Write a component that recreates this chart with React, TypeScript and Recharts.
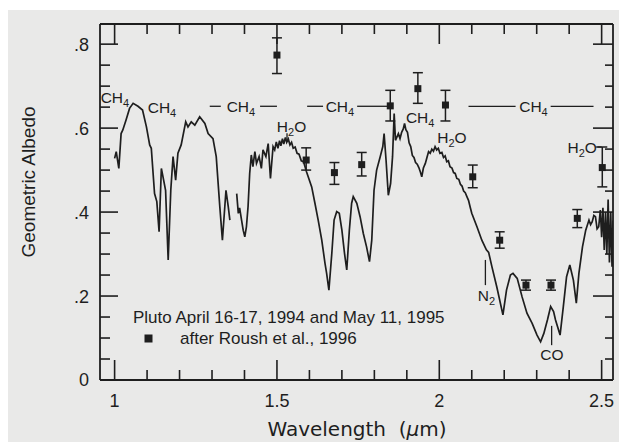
import React from "react";
import {
  ComposedChart,
  Line,
  Scatter,
  ErrorBar,
  XAxis,
  YAxis,
  ReferenceLine,
  ReferenceDot,
  Customized,
} from "recharts";

// ---------- spectrum (wavelength in µm, geometric albedo) ----------
const specWl = [
  1.0, 1.005, 1.013, 1.02, 1.025, 1.035, 1.046, 1.057, 1.072, 1.086, 1.098, 1.108, 1.113, 1.123, 1.13,
  1.137, 1.144, 1.151, 1.157, 1.165, 1.173, 1.18, 1.188, 1.195, 1.205, 1.219, 1.226, 1.236, 1.247, 1.262,
  1.278, 1.288, 1.303, 1.313, 1.324, 1.332, 1.343, 1.35, 1.355, 1.363, 1.376, 1.381, 1.385, 1.391, 1.396,
  1.401, 1.406, 1.411, 1.416, 1.421, 1.426, 1.432, 1.437, 1.445, 1.452, 1.457, 1.466, 1.473, 1.48, 1.488,
  1.493, 1.498, 1.503, 1.508, 1.512, 1.517, 1.521, 1.526, 1.53, 1.535, 1.54, 1.545, 1.55, 1.556, 1.562,
  1.568, 1.575, 1.582, 1.591, 1.607, 1.617, 1.627, 1.638, 1.648, 1.653, 1.66, 1.669, 1.676, 1.684, 1.692,
  1.7, 1.708, 1.715, 1.723, 1.73, 1.735, 1.746, 1.756, 1.766, 1.776, 1.785, 1.792, 1.799, 1.807, 1.818,
  1.826, 1.83, 1.836, 1.843, 1.85, 1.856, 1.861, 1.865, 1.874, 1.879, 1.884, 1.889, 1.893, 1.897, 1.902,
  1.907, 1.912, 1.917, 1.922, 1.927, 1.932, 1.937, 1.942, 1.946, 1.951, 1.957, 1.962, 1.967, 1.972, 1.977,
  1.982, 1.987, 1.992, 1.997, 2.002, 2.008, 2.013, 2.018, 2.023, 2.028, 2.033, 2.039, 2.044, 2.049, 2.054,
  2.06, 2.065, 2.07, 2.075, 2.08, 2.085, 2.09, 2.095, 2.1, 2.116, 2.131, 2.145, 2.152, 2.162, 2.177,
  2.196, 2.207, 2.219, 2.227, 2.24, 2.255, 2.27, 2.286, 2.301, 2.312, 2.322, 2.333, 2.343, 2.352, 2.358,
  2.372, 2.382, 2.392, 2.402, 2.413, 2.422, 2.43, 2.441, 2.451, 2.461, 2.466, 2.471, 2.476, 2.481, 2.486,
  2.491, 2.496, 2.5, 2.504, 2.508, 2.512, 2.516, 2.52, 2.524, 2.528, 2.532, 2.535,
];
const specAlb: (number | null)[] = [
  0.528, 0.544, 0.504, 0.587, 0.595, 0.619, 0.647, 0.659, 0.652, 0.643, 0.603, 0.56, 0.552, 0.444, 0.425,
  0.353, 0.504, 0.476, 0.452, 0.286, 0.452, 0.532, 0.476, 0.54, 0.56, 0.615, 0.603, 0.615, 0.607, 0.627,
  0.611, 0.587, 0.575, 0.532, 0.413, 0.333, 0.452, 0.413, 0.381, null, 0.444, 0.397, 0.41, 0.381, 0.357,
  0.341, 0.365, 0.413, 0.492, 0.536, 0.508, 0.544, 0.516, 0.532, 0.504, 0.548, 0.532, 0.563, 0.48, 0.556,
  0.548, 0.567, 0.552, 0.57, 0.558, 0.575, 0.562, 0.578, 0.566, 0.574, 0.56, 0.566, 0.552, 0.555, 0.54,
  0.538, 0.522, 0.52, 0.496, 0.46, 0.421, 0.381, 0.333, 0.278, 0.254, 0.214, 0.302, 0.381, 0.401, 0.397,
  0.357, 0.302, 0.262, 0.357, 0.421, 0.437, 0.421, 0.389, 0.349, 0.317, 0.282, 0.333, 0.452, 0.5, 0.532,
  0.556, 0.587, 0.524, 0.44, 0.468, 0.532, 0.635, 0.571, 0.587, 0.575, 0.59, 0.598, 0.611, 0.596, 0.59,
  0.565, 0.556, 0.535, 0.53, 0.518, 0.514, 0.506, 0.495, 0.484, 0.505, 0.516, 0.53, 0.544, 0.54, 0.55,
  0.545, 0.556, 0.548, 0.552, 0.54, 0.542, 0.53, 0.534, 0.52, 0.522, 0.508, 0.505, 0.494, 0.492, 0.48,
  0.478, 0.466, 0.462, 0.45, 0.446, 0.437, 0.428, 0.412, 0.397, 0.365, 0.333, 0.31, 0.304, 0.27, 0.222,
  0.155, 0.214, 0.25, 0.254, 0.242, 0.198, 0.159, 0.135, 0.107, 0.091, 0.111, 0.143, 0.175, 0.163, 0.143,
  0.107, 0.175, 0.246, 0.274, 0.238, 0.183, 0.254, 0.317, 0.357, 0.381, 0.37, 0.377, 0.392, 0.389, 0.36,
  0.365, 0.405, 0.34, 0.41, 0.31, 0.4, 0.3, 0.43, 0.28, 0.4, 0.27, 0.38,
];

// ---------- Roush et al. 1996 points ----------
const ptWl = [1.5, 1.59, 1.677, 1.761, 1.849, 1.934, 2.019, 2.103, 2.186, 2.267, 2.344, 2.425, 2.502];
const ptAlb = [0.774, 0.524, 0.494, 0.513, 0.653, 0.694, 0.655, 0.484, 0.333, 0.226, 0.226, 0.385, 0.506];
const ptLo = [0.73, 0.5, 0.466, 0.486, 0.617, 0.659, 0.617, 0.458, 0.314, 0.214, 0.214, 0.363, 0.46];
const ptHi = [0.815, 0.553, 0.518, 0.542, 0.69, 0.732, 0.69, 0.512, 0.353, 0.238, 0.238, 0.406, 0.555];

// ---------- ticks ----------
const X_TICKS = [1, 1.1, 1.2, 1.3, 1.4, 1.5, 1.6, 1.7, 1.8, 1.9, 2, 2.1, 2.2, 2.3, 2.4, 2.5];
const X_MAJOR = [1, 1.5, 2, 2.5];
const Y_TICKS = [
  0, 0.05, 0.1, 0.15, 0.2, 0.25, 0.3, 0.35, 0.4, 0.45, 0.5, 0.55, 0.6, 0.65, 0.7, 0.75, 0.8,
];
const Y_MAJOR = [0, 0.2, 0.4, 0.6, 0.8];

// ---------- annotations ----------
const annoY = 0.652;
const ch4Bars = [
  [1.293, 1.327],
  [1.448, 1.5],
  [1.593, 1.642],
  [1.747, 1.84],
  [2.09, 2.235],
  [2.343, 2.475],
];

const specData = specWl.map((w, i) => ({ w, a: specAlb[i] }));
const ptData = ptWl.map((w, i) => ({ w, a: ptAlb[i], err: [ptAlb[i] - ptLo[i], ptHi[i] - ptAlb[i]] }));

const INK = "#1e1e1e";
const SANS = "Liberation Sans, Arial, Helvetica, sans-serif";

const isIn = (arr: number[], v: number) => arr.some((m) => Math.abs(m - v) < 1e-6);

const BottomTick = (p: any) => {
  const v = p.payload.value;
  const maj = isIn(X_MAJOR, v);
  return (
    <g>
      <line x1={p.x} x2={p.x} y1={p.y} y2={p.y - (maj ? 20 : 10)} stroke={INK} strokeWidth={1.6} />
      {maj && (
        <text x={p.x} y={p.y + 27} textAnchor="middle" fontFamily={SANS} fontSize={18} fill={INK}>
          {String(v)}
        </text>
      )}
    </g>
  );
};
const TopTick = (p: any) => {
  const v = p.payload.value;
  const maj = isIn(X_MAJOR, v);
  return <line x1={p.x} x2={p.x} y1={p.y} y2={p.y + (maj ? 20 : 10)} stroke={INK} strokeWidth={1.6} />;
};
const LeftTick = (p: any) => {
  const v = p.payload.value;
  const maj = isIn(Y_MAJOR, v);
  const lbl = v === 0 ? "0" : "." + String(Math.round(v * 10));
  return (
    <g>
      <line x1={p.x} x2={p.x + (maj ? 18 : 10)} y1={p.y} y2={p.y} stroke={INK} strokeWidth={1.6} />
      {maj && (
        <text x={p.x - 11} y={p.y} dy="0.36em" textAnchor="end" fontFamily={SANS} fontSize={18} fill={INK}>
          {lbl}
        </text>
      )}
    </g>
  );
};
const RightTick = (p: any) => {
  const v = p.payload.value;
  const maj = isIn(Y_MAJOR, v);
  return <line x1={p.x} x2={p.x - (maj ? 20 : 8)} y1={p.y} y2={p.y} stroke={INK} strokeWidth={1.6} />;
};

const Square = (p: any) => <rect x={p.cx - 3.5} y={p.cy - 3.5} width={7} height={7} fill={INK} />;

type Sub = { main: string; sub: string; tail?: string };
const mkText = (t: Sub, anchor: "start" | "middle") => (p: any) => (
  <text x={p.cx} y={p.cy} dy="0.36em" textAnchor={anchor} fontFamily={SANS} fontSize={15.5} fill={INK}>
    {t.main}
    <tspan dy={4} fontSize={11}>
      {t.sub}
    </tspan>
    {t.tail ? <tspan dy={-4}>{t.tail}</tspan> : null}
  </text>
);

const CH4: Sub = { main: "CH", sub: "4" };
const H2O: Sub = { main: "H", sub: "2", tail: "O" };
const N2: Sub = { main: "N", sub: "2" };

const labels: { w: number; v: number; t: Sub; anchor: "start" | "middle" }[] = [
  { w: 0.957, v: 0.674, t: CH4, anchor: "start" },
  { w: 1.102, v: 0.65, t: CH4, anchor: "start" },
  { w: 1.389, v: annoY, t: CH4, anchor: "middle" },
  { w: 1.694, v: annoY, t: CH4, anchor: "middle" },
  { w: 1.941, v: 0.626, t: CH4, anchor: "middle" },
  { w: 2.29, v: annoY, t: CH4, anchor: "middle" },
  { w: 1.545, v: 0.605, t: H2O, anchor: "middle" },
  { w: 2.039, v: 0.579, t: H2O, anchor: "middle" },
  { w: 2.44, v: 0.555, t: H2O, anchor: "middle" },
  { w: 2.145, v: 0.202, t: N2, anchor: "middle" },
];

const LegendBox = () => (
  <g fontFamily={SANS} fontSize={17} fill={INK}>
    <text x={133} y={323}>Pluto April 16-17, 1994 and May 11, 1995</text>
    <rect x={144.5} y={334.5} width={8} height={8} fill={INK} />
    <text x={180} y={344}>after Roush et al., 1996</text>
    <text x={357} y={436} textAnchor="middle" fontFamily="DejaVu Sans, sans-serif" fontSize={20}>
      Wavelength{"\u00a0\u00a0"}(<tspan fontStyle="italic">µ</tspan>m)
    </text>
    <text
      x={0}
      y={0}
      transform="translate(28,182) rotate(-90)"
      textAnchor="middle"
      dy="0.36em"
      fontSize={19}
    >
      Geometric Albedo
    </text>
  </g>
);

const ax = { xAxisId: "b", yAxisId: "l" };

export default function App() {
  return (
    <div style={{ position: "absolute", left: 0, top: 0, width: 619, height: 442, background: "#ffffff" }}>
      <div style={{ position: "absolute", left: 8, top: 10, right: 0, bottom: 0, background: "#e9e9e8" }} />
      <div style={{ position: "absolute", left: 0, top: 0 }}>
        <ComposedChart width={619} height={442} margin={{ top: 0, right: 0, bottom: 0, left: 0 }}>
          <XAxis
            xAxisId="b"
            type="number"
            dataKey="w"
            orientation="bottom"
            domain={[0.955, 2.535]}
            allowDataOverflow
            ticks={X_TICKS}
            interval={0}
            height={62}
            tickSize={0}
            tickMargin={0}
            tickLine={false}
            axisLine={{ stroke: INK, strokeWidth: 1.8 }}
            tick={<BottomTick />}
          />
          <XAxis
            xAxisId="t"
            type="number"
            dataKey="w"
            orientation="top"
            domain={[0.955, 2.535]}
            allowDataOverflow
            ticks={X_TICKS}
            interval={0}
            height={24}
            tickSize={0}
            tickMargin={0}
            tickLine={false}
            axisLine={{ stroke: INK, strokeWidth: 1.8 }}
            tick={<TopTick />}
          />
          <YAxis
            yAxisId="l"
            type="number"
            orientation="left"
            domain={[0, 0.848]}
            allowDataOverflow
            ticks={Y_TICKS}
            interval={0}
            width={100}
            tickSize={0}
            tickMargin={0}
            tickLine={false}
            axisLine={{ stroke: INK, strokeWidth: 1.8 }}
            tick={<LeftTick />}
          />
          <YAxis
            yAxisId="r"
            type="number"
            orientation="right"
            domain={[0, 0.848]}
            allowDataOverflow
            ticks={Y_TICKS}
            interval={0}
            width={6}
            tickSize={0}
            tickMargin={0}
            tickLine={false}
            axisLine={{ stroke: INK, strokeWidth: 1.8 }}
            tick={<RightTick />}
          />

          <Line
            {...ax}
            data={specData}
            dataKey="a"
            type="linear"
            dot={false}
            stroke={INK}
            strokeWidth={1.7}
            isAnimationActive={false}
            connectNulls={false}
          />
          <Scatter {...ax} data={ptData} dataKey="a" shape={<Square />} isAnimationActive={false}>
            <ErrorBar dataKey="err" direction="y" width={5} stroke={INK} strokeWidth={1.5} isAnimationActive={false} />
          </Scatter>

          {ch4Bars.map(([a, b], i) => (
            <ReferenceLine
              key={"c" + i}
              {...ax}
              segment={[
                { x: a, y: annoY },
                { x: b, y: annoY },
              ]}
              stroke={INK}
              strokeWidth={1.3}
            />
          ))}
          <ReferenceLine {...ax} segment={[{ x: 2.481, y: 0.555 }, { x: 2.5, y: 0.555 }]} stroke={INK} strokeWidth={1.3} />
          <ReferenceLine {...ax} segment={[{ x: 1.531, y: 0.588 }, { x: 1.531, y: 0.571 }]} stroke={INK} strokeWidth={1.3} />
          <ReferenceLine {...ax} segment={[{ x: 2.142, y: 0.286 }, { x: 2.142, y: 0.226 }]} stroke={INK} strokeWidth={1.3} />
          <ReferenceLine {...ax} segment={[{ x: 2.346, y: 0.129 }, { x: 2.346, y: 0.083 }]} stroke={INK} strokeWidth={1.3} />

          {labels.map((l, i) => (
            <ReferenceDot key={"l" + i} {...ax} x={l.w} y={l.v} r={0} shape={mkText(l.t, l.anchor)} />
          ))}
          <ReferenceDot
            {...ax}
            x={2.347}
            y={0.06}
            r={0}
            shape={(p: any) => (
              <text x={p.cx} y={p.cy} dy="0.36em" textAnchor="middle" fontFamily={SANS} fontSize={15.5} fill={INK}>
                CO
              </text>
            )}
          />
          <Customized component={LegendBox} />
        </ComposedChart>
      </div>
    </div>
  );
}
